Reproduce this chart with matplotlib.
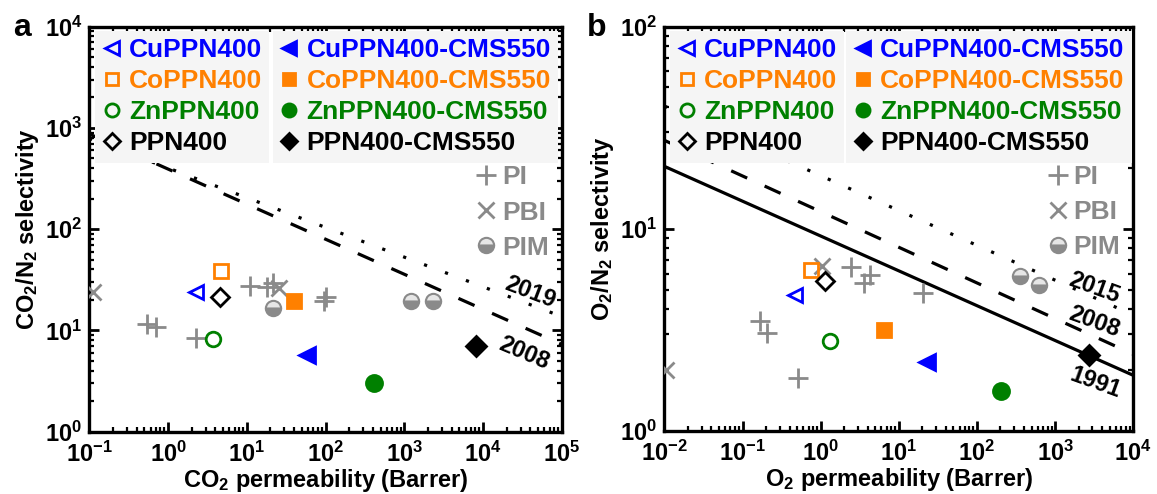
import numpy as np
import matplotlib
matplotlib.use('Agg')
import matplotlib.pyplot as plt
from matplotlib.ticker import LogLocator, FuncFormatter, NullFormatter
from matplotlib.lines import Line2D

plt.rcParams['font.family'] = 'Liberation Sans'
plt.rcParams['font.weight'] = 'bold'
plt.rcParams['axes.labelweight'] = 'bold'
plt.rcParams['mathtext.fontset'] = 'custom'
plt.rcParams['mathtext.rm'] = 'Liberation Sans:bold'
plt.rcParams['mathtext.bf'] = 'Liberation Sans:bold'
plt.rcParams['mathtext.it'] = 'Liberation Sans:bold:italic'
plt.rcParams['mathtext.default'] = 'bf'

# sample order: open (PPN400) then filled (PPN400-CMS550)
names = ['CuPPN400', 'CoPPN400', 'ZnPPN400', 'PPN400',
         'CuPPN400-CMS550', 'CoPPN400-CMS550', 'ZnPPN400-CMS550', 'PPN400-CMS550']

# panel a: CO2 permeability (Barrer), CO2/N2 selectivity
a_perm = [2.25, 4.7, 3.74, 4.56, 59, 39.5, 408, 8040]
a_sel = [23.8, 38.9, 8.28, 21.3, 5.68, 19.7, 3.06, 6.96]
a_pi_perm = [0.54, 0.71, 2.25, 10.9, 17.8, 21.7, 97, 100]
a_pi_sel = [11.5, 10.9, 8.47, 27.7, 26.7, 29.5, 19.5, 21.5]
a_pbi_perm = [0.11, 26]
a_pbi_sel = [24, 26.5]
a_pim_perm = [21.5, 1230, 2290]
a_pim_sel = [16.7, 19.7, 19.7]

# panel b: O2 permeability (Barrer), O2/N2 selectivity
b_perm = [0.472, 0.75, 1.33, 1.12, 23, 6.5, 201, 2690]
b_sel = [4.71, 6.22, 2.77, 5.49, 2.18, 3.16, 1.58, 2.38]
b_pi_perm = [2.46, 3.59, 4.22, 0.166, 0.206, 0.514, 20.2]
b_pi_sel = [6.46, 5.38, 5.92, 3.48, 3.04, 1.82, 4.8]
b_pbi_perm = [1.04, 0.0105]
b_pbi_sel = [6.51, 2.0]
b_pim_perm = [353, 625]
b_pim_sel = [5.81, 5.28]

# upper bounds P = k * alpha^n
a_bounds = {'2008': (3.0967e7, -2.888), '2019': (7.55e8, -3.409)}
b_bounds = {'1991': (389224, -5.8), '2008': (1.396e6, -5.666), '2015': (2.1e7, -5.8)}

blue, orange, green = '#0000ff', '#ff8000', '#008000'
grey = '#8a8a8a'
styles = [('<', blue, False), ('s', orange, False), ('o', green, False), ('D', 'k', False),
          ('<', blue, True), ('s', orange, True), ('o', green, True), ('D', 'k', True)]
sizes = {'<': 10.5, 's': 9.5, 'o': 10.5, 'D': 9.5}
bound_ls = {'1991': '-', '2008': (0, (5.5, 6)), '2015': (0, (1, 6)), '2019': (0, (1, 6))}
FS = 17
LFS = 19


def handle(mk, c, filled):
    return Line2D([], [], ls='none', marker=mk, ms=sizes[mk] * 0.9,
                  mfc=c if filled else 'none', mec=c, mew=2)


def draw(ax, perm, sel, pi, pbi, pim, bounds, xlim, ylim, labels, xlabel, ylabel):
    xs = np.logspace(np.log10(xlim[0]), np.log10(xlim[1]), 200)
    for yr, (k, n) in bounds.items():
        ax.plot(xs, (xs / k) ** (1.0 / n), color='k', lw=2.3, ls=bound_ls[yr], zorder=2)
    for (px, py, rot, yr) in labels:
        ax.text(px, py, yr, rotation=rot, ha='center', va='center', fontsize=FS,
                rotation_mode='anchor', zorder=3)
    ax.plot(pi[0], pi[1], ls='none', marker='+', ms=14, mew=2, color=grey, zorder=3)
    ax.plot(pbi[0], pbi[1], ls='none', marker='x', ms=12, mew=2, color=grey, zorder=3)
    ax.plot(pim[0], pim[1], ls='none', marker='o', ms=11, fillstyle='bottom',
            mfc=grey, mfcalt='#e6e6e6', mec=grey, mew=1.5, zorder=3)
    for i, (mk, c, filled) in enumerate(styles):
        ms = sizes[mk] * (1.1 if filled else 1.0)
        ax.plot(perm[i], sel[i], ls='none', marker=mk, ms=ms, mfc=c if filled else 'none',
                mec=c, mew=2, zorder=4)

    ax.set_xscale('log')
    ax.set_yscale('log')
    ax.set_xlim(*xlim)
    ax.set_ylim(*ylim)
    for axis in (ax.xaxis, ax.yaxis):
        axis.set_major_locator(LogLocator(base=10, numticks=20))
        axis.set_minor_locator(LogLocator(base=10, subs=np.arange(2, 10), numticks=100))
        axis.set_major_formatter(FuncFormatter(lambda v, p: r'$\mathbf{10^{%d}}$' % round(np.log10(v))))
        axis.set_minor_formatter(NullFormatter())
    ax.tick_params(which='both', direction='in', top=True, right=True, width=2, labelsize=FS)
    ax.tick_params(which='major', length=7)
    ax.tick_params(axis='x', which='major', pad=7)
    ax.tick_params(axis='y', which='major', pad=5)
    ax.tick_params(which='minor', length=3.5, width=1.6)
    for s in ax.spines.values():
        s.set_linewidth(2.4)
    ax.set_xlabel(xlabel, fontsize=FS, labelpad=0)
    ax.set_ylabel(ylabel, fontsize=FS, labelpad=3)

    # two-column legend, one shaded box per column
    common = dict(loc='upper left', fontsize=LFS, frameon=True, fancybox=False,
                  facecolor='#f5f5f5', edgecolor='none', framealpha=1, handlelength=0.7,
                  handletextpad=0.3, labelspacing=0.27, borderpad=0.28, borderaxespad=0)
    lg1 = ax.legend([handle(*s) for s in styles[:4]], names[:4], bbox_to_anchor=(0.012, 0.99),
                    labelcolor=[s[1] for s in styles[:4]], **common)
    lg1.set_zorder(5)
    ax.add_artist(lg1)
    lg2 = ax.legend([handle(*s) for s in styles[4:]], names[4:], bbox_to_anchor=(0.388, 0.99),
                    labelcolor=[s[1] for s in styles[4:]], **common)
    lg2.set_zorder(5)
    ax.add_artist(lg2)
    hs = [Line2D([], [], ls='none', marker='+', ms=14, mew=2, color=grey),
          Line2D([], [], ls='none', marker='x', ms=12, mew=2, color=grey),
          Line2D([], [], ls='none', marker='o', ms=11, fillstyle='bottom', mfc=grey,
                 mfcalt='#e6e6e6', mec=grey, mew=1.5)]
    lg3 = ax.legend(hs, ['PI', 'PBI', 'PIM'], loc='upper right', bbox_to_anchor=(1.0, 0.69),
                    fontsize=LFS, frameon=False, handlelength=0.8, handletextpad=0.2,
                    labelspacing=0.42, borderaxespad=0.1, labelcolor=grey)
    lg3.set_zorder(5)


fig = plt.figure(figsize=(11.57, 4.94), dpi=100)
ax1 = fig.add_axes([0.0772, 0.1261, 0.4083, 0.8199])
ax2 = fig.add_axes([0.5742, 0.1281, 0.4053, 0.8179])

draw(ax1, a_perm, a_sel, (a_pi_perm, a_pi_sel), (a_pbi_perm, a_pbi_sel),
     (a_pim_perm, a_pim_sel), a_bounds, (0.1, 1e5), (1, 1e4),
     [(10 ** 4.6, 10 ** 1.38, -21, '2019'), (10 ** 4.52, 10 ** 0.77, -23, '2008')],
     r'CO$_2$ permeability (Barrer)', r'CO$_2$/N$_2$ selectivity')
draw(ax2, b_perm, b_sel, (b_pi_perm, b_pi_sel), (b_pbi_perm, b_pbi_sel),
     (b_pim_perm, b_pim_sel), b_bounds, (0.01, 1e4), (1, 100),
     [(10 ** 3.5, 10 ** 0.706, -20, '2015'), (10 ** 3.5, 10 ** 0.541, -20, '2008'),
      (10 ** 3.52, 10 ** 0.236, -20, '1991')],
     r'O$_2$ permeability (Barrer)', r'O$_2$/N$_2$ selectivity')

fig.text(0.011, 0.927, 'a', fontsize=23, va='baseline')
fig.text(0.507, 0.927, 'b', fontsize=23, va='baseline')

fig.savefig('out.png', dpi=100)
